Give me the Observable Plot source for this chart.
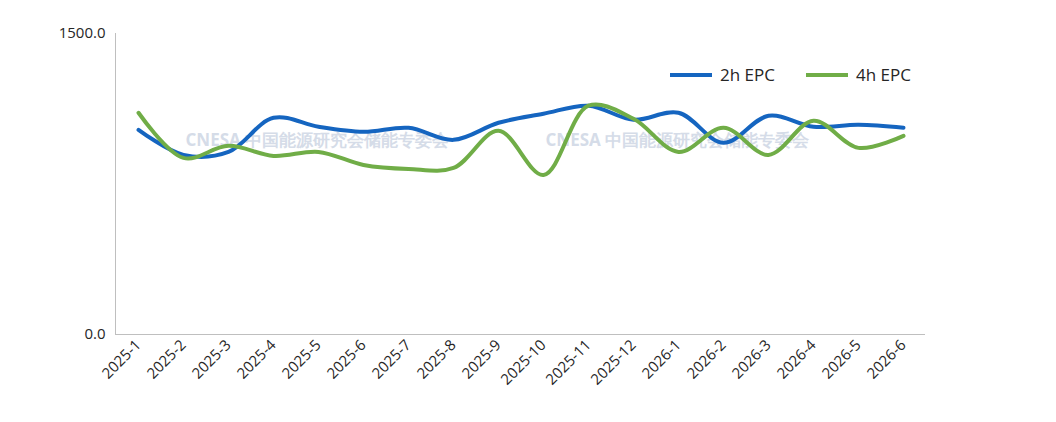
<!DOCTYPE html>
<html><head><meta charset="utf-8">
<script src="https://cdn.jsdelivr.net/npm/d3@7"></script>
<script src="https://cdn.jsdelivr.net/npm/@observablehq/plot@0.6"></script>
<style>body{margin:0;background:#fff;font-family:"Open Sans","Noto Sans CJK SC",sans-serif}</style>
</head><body><div id="c"></div>
<script>
const months = ["2025-1","2025-2","2025-3","2025-4","2025-5","2025-6","2025-7","2025-8","2025-9","2025-10","2025-11","2025-12","2026-1","2026-2","2026-3","2026-4","2026-5","2026-6"];
const epc2h = [1020,895,910,1080,1035,1010,1030,970,1055,1100,1140,1070,1105,955,1090,1035,1045,1030];
const epc4h = [1105,880,940,890,910,845,825,830,1015,795,1140,1075,910,1030,895,1065,930,990];
const yTicks = [0,1500];
const series = [{name:"2h EPC",vals:epc2h,color:"#1565c0"},{name:"4h EPC",vals:epc4h,color:"#70ad47"}];
const data = series.flatMap(s => s.vals.map((v,i)=>({m:months[i],v,s:s.name})));
const chart = Plot.plot({
  width:1056,height:422,marginLeft:115,marginRight:131,marginTop:33,marginBottom:88,
  style:{fontFamily:"'Open Sans',sans-serif",fontSize:"15px",color:"#262626"},
  x:{type:"point",domain:months,padding:0.5,label:null,tickRotate:-45,tickSize:0,tickPadding:8},
  y:{domain:[0,1500],ticks:yTicks,tickFormat:d=>d.toFixed(1),label:null,tickSize:0,tickPadding:10},
  color:{domain:series.map(s=>s.name),range:series.map(s=>s.color)},
  marks:[
    Plot.ruleY([0],{stroke:"#bfbfbf"}),
    Plot.ruleX([months[0]],{dx:-23,stroke:"#bfbfbf"}),
    Plot.text(["CNESA 中国能源研究会储能专委会"],{frameAnchor:"top-left",dx:70,dy:100,fill:"#d5dce8",fontSize:17,fontWeight:"bold"}),
    Plot.text(["CNESA 中国能源研究会储能专委会"],{frameAnchor:"top-left",dx:430,dy:100,fill:"#d5dce8",fontSize:17,fontWeight:"bold"}),
    Plot.line(data,{x:"m",y:"v",stroke:"s",strokeWidth:4,curve:"catmull-rom"})
  ]
});
const svg=d3.select(chart);
const lg=svg.append("g").attr("style","font-size:17px;fill:#262626").attr("text-anchor","start");
[[670,"2h EPC","#1565c0"],[806,"4h EPC","#70ad47"]].forEach(([x,t,c])=>{
  lg.append("line").attr("x1",x).attr("x2",x+42).attr("y1",75).attr("y2",75).attr("stroke",c).attr("stroke-width",4);
  lg.append("text").attr("x",x+50).attr("y",81).attr("text-anchor","start").text(t);
});
document.getElementById("c").appendChild(chart);
</script></body></html>
